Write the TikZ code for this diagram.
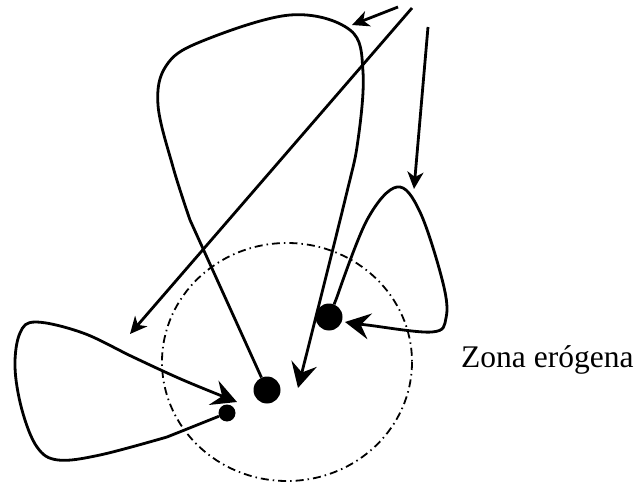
\documentclass[tikz,border=0pt]{standalone}
\usepackage{fontspec}
\setmainfont{Liberation Serif}
\usetikzlibrary{arrows.meta}
\begin{document}
\begin{tikzpicture}[x=1pt,y=-1pt,
  curve/.style={line width=2.8pt, line join=round},
  arrbig/.style={-{Stealth[length=25pt,width=26pt,inset=9pt]}},
  arrsmall/.style={-{Stealth[length=17pt,width=16pt,inset=5pt]}},
  dot/.style={circle, fill=black, draw=none, inner sep=0pt},
  zone/.style={line width=1.8pt, dash pattern=on 8pt off 4pt on 1.5pt off 4pt}]
\useasboundingbox (0,0) rectangle (638,484);

% erogenous zone
\coordinate (zc) at (287,362);
\draw[zone] (zc) ellipse [x radius=125, y radius=119];

% dots
\node[dot, minimum size=27pt] (bigdot) at (267,390) {};
\node[dot, minimum size=27pt] (rightdot) at (329,317) {};
\node[dot, minimum size=17pt] (smalldot) at (227,413) {};

% label
\node[anchor=base west, inner sep=0pt, font=\fontsize{31.5}{36}\selectfont] (label) at (461,367) {Zona erógena};

% straight arrows from top
\coordinate (a1s) at (412,8);   \coordinate (a1e) at (130,334);
\coordinate (a2s) at (398,7);   \coordinate (a2e) at (352,25);
\coordinate (a3s) at (428,27);  \coordinate (a3e) at (414,189);
\draw[curve, arrsmall] (a1s) -- (a1e);
\draw[curve, arrsmall] (a2s) -- (a2e);
\draw[curve, arrsmall] (a3s) -- (a3e);

% big loop
\draw[curve, arrbig] (bigdot.114) -- plot[smooth, tension=0.6] coordinates {
  (190,220) (173,167) (158,105) (166,66) (200,42) (290,15)
  (350,30) (363,72) (358,140) (345,200) (298,388)};

% right loop
\draw[curve, arrbig] (rightdot.68) -- plot[smooth, tension=0.6] coordinates {
  (337,297) (367,220) (397,187) (420,212) (443,283) (446,318) (432,332) (367,325) (345,322)};

% left loop
\draw[curve, arrbig] (smalldot.202) -- plot[smooth, tension=0.6] coordinates {
  (167,437) (100,455) (58,460) (37,447) (22,410) (15,367)
  (20,333) (36,322) (83,333) (133,357) (183,380) (237,402)};
\end{tikzpicture}
\end{document}
